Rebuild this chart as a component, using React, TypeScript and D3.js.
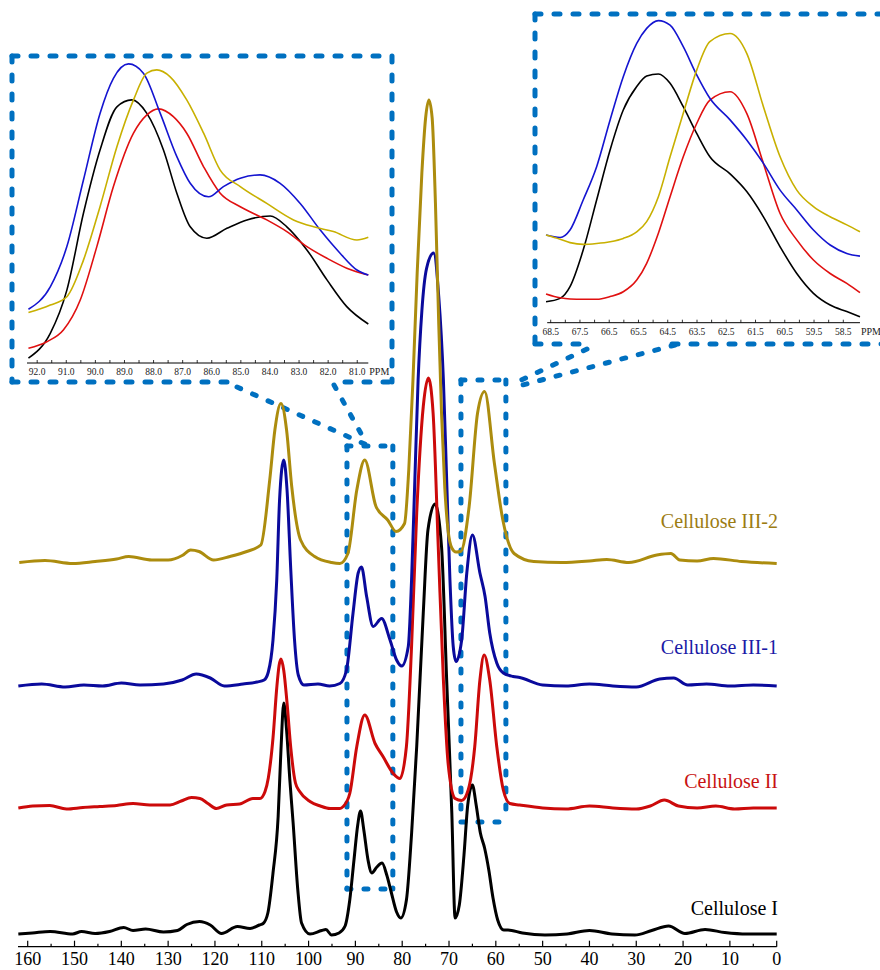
import React from 'react';
import * as d3 from 'd3';

type Pt = [number, number];

// 13C CP/MAS spectra, [ppm, intensity a.u.]
const cellI: Pt[] = [
  [162, 0], [159, 0.2], [155.2, 0.5], [150.4, 0], [148.5, 0.5], [145.6, 0.1], [142.5, 0.5], [139.5, 1.3],
  [137.5, 0.7], [134.8, 1.0], [131, 0.4], [128, 0.7], [126, 1.9], [123.3, 2.5], [121, 1.8], [118.6, 0.1],
  [115.2, 1.5], [112.5, 1.1], [110.5, 1.8], [109.7, 2.1], [108.7, 4.2], [107.6, 12.2], [106.5, 23.5],
  [105.9, 36.8], [105.3, 46.2], [104.7, 40.8], [104.0, 30.8], [103.3, 22.2], [102.3, 8.8], [101.5, 2.2],
  [99.7, 0], [97.2, 0.7], [96.3, 0.9], [95.1, -0.2], [93.5, 0.2], [92.2, 1.6], [91.2, 6.8], [90.3, 14.8],
  [89.5, 21.8], [88.9, 24.6], [88.2, 20.8], [87.3, 14.8], [86.5, 12.2], [85.4, 13.4], [84.3, 14.2],
  [83.3, 11.8], [82.3, 8.2], [81.2, 4.4], [80.3, 3.2], [79.1, 6.8], [78.0, 20], [76.9, 37.5], [75.5, 64.2],
  [74.5, 80.8], [73.0, 86], [71.6, 77.5], [70.5, 50.8], [69.4, 24.2], [68.7, 3.2], [67.8, 5.8], [66.8, 15.8],
  [66.0, 25.8], [65.0, 29.8], [64.2, 25.8], [63.3, 20.2], [62.4, 17.2], [61.5, 12.8], [60.6, 7.2],
  [59.6, 2.8], [58.3, 0.8], [57.4, 0.8], [54.3, 0.2], [49.5, -0.2], [44.8, 0], [40, 0.7], [35.2, 0],
  [30.3, -0.2], [26.7, 0.7], [23.1, 1.6], [19.6, 0.1], [15.3, 0.9], [11.1, 0.3], [6.3, 0], [0, 0],
];

const cellII: Pt[] = [
  [162, 0], [158.9, 0.4], [155.3, 0.5], [151.7, -0.2], [148.2, 0.1], [144.6, 0.3], [141, 0.5], [137.5, 0.9],
  [133.9, 0.6], [129.6, 0.6], [127.2, 1.4], [125, 2.1], [123.2, 1.9], [121.5, 0.9], [119.7, -0.1],
  [117.5, 0.6], [114.7, 0.8], [111.9, 1.9], [110.4, 1.9], [109.3, 3.3], [108.6, 6], [107.6, 14], [106.8, 24],
  [106.3, 28.5], [105.9, 29.8], [105.3, 27.5], [104.6, 21], [103.8, 12], [102.8, 5], [101.9, 3.3],
  [99.7, 1.3], [97.5, 0.4], [95.4, -0.1], [93.3, -0.1], [92.6, 0.3], [91.2, 2.9], [89.7, 12.3], [88.0, 18.6],
  [85.8, 12.9], [84.1, 10.3], [81.9, 6.9], [80.5, 5.9], [79.1, 12.3], [78.0, 32.3], [76.9, 59], [75.5, 80.3],
  [74.4, 86], [73.4, 79], [72.3, 52.3], [71.2, 25.6], [70.2, 9], [68.7, 1.9], [67.3, 1.5], [65.9, 3.6],
  [64.5, 12.3], [63.4, 25.6], [62.5, 30.6], [61.3, 25.6], [59.8, 12.3], [58.4, 3.6], [57, 0.9], [54.9, 0.6],
  [50, 0], [45, -0.2], [40, 0.4], [35, 0], [30, -0.2], [27, 0.4], [24, 1.6], [21, 0.4], [17, 0], [13, 0.4],
  [9, -0.2], [5, 0], [0, 0],
];

const cellIII1: Pt[] = [
  [162, 0], [157, 0.4], [152, -0.2], [148, 0.2], [144, 0], [140, 0.6], [136, 0.2], [131, 0.4], [127, 1.2],
  [124, 2.4], [121, 1.6], [118, 0], [114, 0.4], [111, 0.8], [109.5, 1.2], [108.6, 2.8], [107.6, 9.2],
  [106.8, 21.2], [106.2, 37.2], [105.3, 45.2], [104.6, 39.2], [103.8, 23.2], [103, 9.2], [102.2, 2.2],
  [101, 0.2], [98, 0.4], [95.5, 0], [93.3, 0.5], [91.9, 3.2], [90.5, 14.6], [89.4, 22.6], [88.7, 23.8],
  [87.6, 17.9], [86.2, 11.9], [84.4, 13.5], [82.6, 9.2], [81.2, 5.2], [80.1, 4], [78.7, 7.9], [78.0, 21.2],
  [77.3, 41.2], [76.6, 61.2], [75.8, 75], [74.8, 83.5], [73.3, 86.6], [72.2, 78], [71.2, 61.2], [70.5, 41.2],
  [69.8, 21.2], [69.1, 7.9], [68.5, 4.9], [67.3, 9.2], [66.2, 22.6], [65.0, 30.2], [63.4, 22.6], [62.3, 17.9],
  [61.3, 10.6], [59.8, 4.6], [58.4, 2.6], [56.3, 1.9], [54.9, 1.7], [50, 0.2], [45, 0], [40, 0.4], [35, 0],
  [30, -0.2], [25, 1.4], [22, 1.6], [19, 0.2], [15, 0.4], [10, 0], [5, 0.2], [0, 0],
];

const cellIII2: Pt[] = [
  [161.8, 0.1], [156.3, 0.5], [150.4, -0.1], [145.6, 0.3], [141, 0.8], [138.4, 1.3], [133.5, 0.6], [130, 0.6],
  [127, 1.5], [125.2, 2.6], [123.4, 2.3], [120.3, 0.6], [116.8, 1.3], [113.2, 2.3], [110.2, 3.6],
  [108.3, 16.6], [107.2, 26.6], [105.9, 31.9], [104.7, 26.6], [103.6, 15.3], [101.7, 4.6], [98.7, 1.3],
  [95.1, 0.1], [93.3, -0.1], [91.6, 1.9], [89.7, 14.6], [88.0, 20.6], [85.6, 11.3], [83.1, 8.6], [81.3, 6.3],
  [79.5, 7.9], [78.6, 18.6], [77.7, 36.6], [76.8, 58], [75.8, 78], [75.0, 89], [74.3, 92.6], [73.6, 89],
  [72.9, 72], [72.2, 48], [71.6, 30], [70.9, 15], [70.2, 6.5], [69.4, 3], [68.5, 2.2], [67.5, 2.3],
  [65.7, 11.3], [63.9, 30], [62.4, 34.3], [60.3, 19.9], [58.5, 8.6], [56.1, 1.9], [51.9, 0.3], [45.9, 0.1],
  [40, 0.4], [36.3, 0.7], [31.6, 0.1], [25.6, 1.6], [22.6, 1.9], [20.7, 0.6], [17, 0.4], [13.5, 0.9],
  [7.5, 0.3], [0, -0.1],
];

const seriesNames = ['Cellulose I', 'Cellulose II', 'Cellulose III-1', 'Cellulose III-2'];
const stackOffsets = [0, 25.2, 49.6, 74.2];

// C4 region (left zoom)
const c4I: Pt[] = [
  [92.3, 1.6], [91.55, 9.9], [90.98, 24.3], [90.41, 49.9], [89.84, 71], [89.26, 85.4], [88.75, 87.7],
  [88.23, 83.2], [87.66, 71], [87.2, 56.6], [86.74, 45.4], [86.17, 41.6], [85.48, 44.9], [84.79, 47.7],
  [83.99, 49], [83.42, 45.4], [82.73, 37.7], [82.04, 27.7], [81.36, 18.8], [80.62, 13],
];
const c4II: Pt[] = [
  [92.3, 4.9], [91.67, 7.1], [91.1, 11], [90.52, 21], [89.95, 38.8], [89.38, 58.8], [88.69, 76.6],
  [88.23, 82.7], [87.83, 84.7], [87.32, 82.1], [86.86, 76.6], [86.28, 65.4], [85.71, 56.6], [85.02, 52.1],
  [84.11, 47.7], [83.42, 43.8], [82.73, 38.8], [82.04, 34.9], [81.36, 31.6], [80.62, 29.3],
];
const c4III1: Pt[] = [
  [92.3, 17.9], [91.55, 25.4], [90.98, 38.8], [90.41, 61], [89.84, 83.2], [89.38, 94.9], [88.86, 99.7],
  [88.35, 96.6], [87.77, 83.2], [87.2, 68.8], [86.74, 59.9], [86.11, 55.4], [85.6, 58.8], [85.02, 61.6],
  [84.34, 62.7], [83.65, 59.9], [82.96, 53.2], [82.27, 44.3], [81.59, 36.6], [81.01, 31], [80.62, 29.3],
];
const c4III2: Pt[] = [
  [92.3, 16.8], [91.55, 19.3], [90.98, 22.1], [90.41, 34.3], [89.84, 52.1], [89.26, 72.1], [88.69, 87.7],
  [88.23, 96.6], [87.89, 97.7], [87.43, 95.4], [86.86, 87.7], [86.28, 76.6], [85.71, 64.3], [85.02, 58.8],
  [84.11, 53.2], [83.19, 47.7], [82.5, 45.4], [81.82, 43.8], [81.01, 41], [80.62, 41.9],
];

// C6 region (right zoom)
const c6Ppm = [68.66, 68.18, 67.84, 67.39, 66.93, 66.47, 66.02, 65.56, 65.22, 64.82, 64.42, 63.97, 63.51,
  63.06, 62.37, 61.8, 61.23, 60.66, 60.09, 59.52, 58.95, 58.38, 57.93];
const c6I = [7, 8.1, 12, 24.2, 40.9, 57.6, 70.9, 78.7, 82.2, 82.9, 79.8, 72, 63.1, 55.3, 49.6, 43.7, 35.3,
  25.3, 16.4, 9.8, 5.9, 3.7, 2];
const c6II = [9.6, 8.3, 7.9, 7.8, 7.8, 8.7, 10.3, 14.2, 19.8, 29.8, 42, 55.3, 66.4, 74.2, 77, 69.8, 53.1,
  36.4, 27.6, 20.9, 16.4, 13.1, 10];
const c6III1 = [29.2, 28.4, 30.9, 40.9, 52, 67.6, 82, 93.1, 98.1, 100.7, 99.2, 92, 82.6, 74.8, 67.6, 60.9,
  53.1, 44.2, 37.6, 30.9, 25.9, 23.1, 22.2];
const c6III2 = [29.2, 27.8, 26.7, 26.1, 26.4, 27, 28.1, 30.3, 33.7, 42, 55.3, 69.8, 84.2, 93.7, 96.4, 89.8,
  72, 55.3, 44.2, 38.7, 35.3, 32.6, 30.3];

const mainTicks = [160, 150, 140, 130, 120, 110, 100, 90, 80, 70, 60, 50, 40, 30, 20, 10, 0];
const c4Ticks = [92, 91, 90, 89, 88, 87, 86, 85, 84, 83, 82, 81];
const c6Ticks = [68.5, 67.5, 66.5, 65.5, 64.5, 63.5, 62.5, 61.5, 60.5, 59.5, 58.5];

const mainColors = ['#000000', '#CC0A0A', '#0A0A9C', '#AC8C0E'];
const labelColors = ['#000000', '#C81212', '#1A1AA6', '#9C7C12'];
const zoomColors = ['#000000', '#E01010', '#1414D0', '#C8B000'];
const serif = '"Liberation Serif", "Times New Roman", serif';
const dashBlue = '#0070C0';

function Inset({ x, y, axisY, series, ticks, fmt, x0, x1 }: {
  x: d3.ScaleLinear<number, number>; y: d3.ScaleLinear<number, number>; axisY: number;
  series: Pt[][]; ticks: number[]; fmt: (v: number) => string; x0: number; x1: number;
}) {
  const line = d3.line<Pt>().x(d => x(d[0])).y(d => y(d[1])).curve(d3.curveMonotoneX);
  const minor = d3.range(ticks[0], ticks[ticks.length - 1] - 0.01, -0.5);
  return (
    <g>
      {series.map((s, i) => (
        <path key={i} d={line(s) || ''} fill="none" stroke={zoomColors[i]} strokeWidth={1.6} />
      ))}
      <line x1={x(x0)} x2={x(x1)} y1={axisY} y2={axisY} stroke="#000" strokeWidth={1} />
      {minor.map(t => (
        <line key={t} x1={x(t)} x2={x(t)} y1={axisY} y2={axisY - 3} stroke="#000" strokeWidth={0.8} />
      ))}
      {ticks.map(t => (
        <text key={t} x={x(t)} y={axisY + 12} fontSize={9.5} fontFamily={serif} textAnchor="middle" fill="#222">
          {fmt(t)}
        </text>
      ))}
      <text x={x(x1) + 1} y={axisY + 12} fontSize={10} fontFamily={serif} fill="#222">PPM</text>
    </g>
  );
}

export default function App() {
  const W = 880, H = 970;
  const x = d3.scaleLinear().domain([160, 0]).range([27.7, 776.7]);
  const y = d3.scaleLinear().domain([0, 100]).range([934, 434]);
  const axisY = 946.7;
  const spectra = [cellI, cellII, cellIII1, cellIII2];
  const labelY = [915, 788, 654, 528];

  const mainLine = (off: number) =>
    d3.line<Pt>().x(d => x(d[0])).y(d => y(d[1] + off)).curve(d3.curveMonotoneX);

  const xL = d3.scaleLinear().domain([92.35, 80.62]).range([27, 368.3]);
  const yL = d3.scaleLinear().domain([0, 100]).range([363, 63]);
  const xR = d3.scaleLinear().domain([68.5, 58.5]).range([550.7, 843.3]);
  const yR = d3.scaleLinear().domain([0, 100]).range([322.7, 22.7]);
  const c6 = [c6I, c6II, c6III1, c6III2].map(vals => vals.map((v, i) => [c6Ppm[i], v] as Pt));

  const dash = { stroke: dashBlue, strokeWidth: 5, strokeLinecap: 'round' as const, fill: 'none' };
  const segs: [number, number, number, number, string][] = [
    // left zoom frame
    [12, 56, 392, 56, '6 13'], [12, 56, 12, 382, '6 13'], [392, 56, 392, 382, '6 13'],
    [12, 382, 228, 382, '6 13'], [345, 382, 392, 382, '6 13'],
    // right zoom frame
    [535, 14, 885, 14, '6 13'], [535, 14, 535, 344, '6 13'], [535, 344, 590, 344, '6 13'],
    [672, 344, 885, 344, '6 13'],
    // connectors
    [237, 387, 369, 446, '4 13'], [334, 385, 364, 439, '4 13'],
    [587, 349, 513, 384, '4 13'], [675, 345, 511, 388, '4 13'],
    // small frames on the spectrum
    [x(91.8), 446, x(82), 446, '4 13'], [x(91.8), 889, x(82), 889, '4 13'],
    [x(91.8), 446, x(91.8), 889, '4 13'], [x(82), 446, x(82), 889, '4 13'],
    [x(67.45), 380, x(57.85), 380, '4 13'], [x(67.45), 822, x(57.85), 822, '4 13'],
    [x(67.45), 380, x(67.45), 822, '4 13'], [x(57.85), 380, x(57.85), 822, '4 13'],
  ];

  const minorTicks = d3.range(155, 0, -10);

  return (
    <svg width={W} height={H} style={{ position: 'absolute', left: 0, top: 0, background: '#fff' }}>
      {segs.map((s, i) => (
        <line key={i} x1={s[0]} y1={s[1]} x2={s[2]} y2={s[3]} {...dash} strokeDasharray={s[4]} />
      ))}

      {spectra.map((s, i) => (
        <path key={i} d={mainLine(stackOffsets[i])(s) || ''} fill="none" stroke={mainColors[i]}
          strokeWidth={3} strokeLinejoin="round" />
      ))}

      {seriesNames.map((n, i) => (
        <text key={n} x={778} y={labelY[i]} textAnchor="end" fontSize={20} fontFamily={serif} fill={labelColors[i]}>
          {n}
        </text>
      ))}

      <line x1={18} x2={x(0)} y1={axisY} y2={axisY} stroke="#000" strokeWidth={1.2} />
      {mainTicks.map(t => (
        <g key={t}>
          <line x1={x(t)} x2={x(t)} y1={axisY} y2={axisY - 6} stroke="#000" strokeWidth={1.2} />
          <text x={x(t)} y={965} textAnchor="middle" fontSize={18} fontFamily={serif} fill="#000">{t}</text>
        </g>
      ))}
      {minorTicks.map(t => (
        <line key={t} x1={x(t)} x2={x(t)} y1={axisY} y2={axisY - 3} stroke="#000" strokeWidth={1.2} />
      ))}

      <Inset x={xL} y={yL} axisY={363} series={[c4I, c4II, c4III1, c4III2]} ticks={c4Ticks}
        fmt={d3.format('.1f')} x0={92.35} x1={80.62} />
      <Inset x={xR} y={yR} axisY={322.7} series={c6} ticks={c6Ticks}
        fmt={d3.format('.1f')} x0={68.62} x1={57.93} />
    </svg>
  );
}
